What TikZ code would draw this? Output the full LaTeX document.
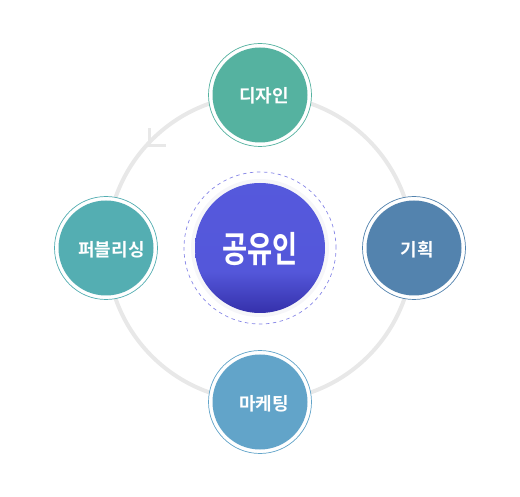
\documentclass[tikz,border=0pt]{standalone}
\usepackage{fontspec}
\setmainfont{Noto Sans CJK KR}[BoldFont={Noto Sans CJK KR Bold}]
\usepackage{xcolor}
\definecolor{designcol}{HTML}{55B2A0}
\definecolor{pubcol}{HTML}{54AEB2}
\definecolor{plancol}{HTML}{5383AE}
\definecolor{markcol}{HTML}{62A4C9}
\definecolor{ringcol}{HTML}{E8E8E8}
\definecolor{dashcol}{HTML}{8585E6}
\definecolor{coretop}{HTML}{565ADE}
\definecolor{coremid}{HTML}{5457DA}
\definecolor{corelow}{HTML}{3733AE}
\definecolor{glowcol}{HTML}{F6F6F9}
\pgfdeclareverticalshading{coreshade}{100bp}{
  color(0bp)=(corelow);
  color(26bp)=(corelow);
  color(41bp)=(coremid);
  color(100bp)=(coretop)}
\tikzset{
  outerdisc/.style={circle,draw=#1,line width=0.7pt,fill=white,minimum size=103pt,inner sep=0pt},
  innerdisc/.style={circle,fill=#1,minimum size=95pt,inner sep=0pt},
  disclabel/.style={text=white,font=\bfseries\fontsize{18}{18}\selectfont,inner sep=0pt}
}
\begin{document}
\begin{tikzpicture}[x=1pt,y=1pt]
\useasboundingbox (0,0) rectangle (520,-497);

% big ring and its arrow
\draw [ringcol,line width=4pt](260,-248) circle (153);
\coordinate (tipa) at (149,-128);
\coordinate (tipb) at (149,-146);
\coordinate (tipc) at (166,-146);
\draw [ringcol,line width=3pt](tipa)--(tipb)--(tipc);

% center
\node [circle,draw=dashcol,dash pattern=on 3.5pt off 3.5pt,line width=0.7pt,minimum size=152pt,inner sep=0pt] (halo) at (260,-248) {};
\node [circle,fill=glowcol,minimum size=138pt,inner sep=0pt] (glow) at (260,-248) {};
\node [circle,shading=coreshade,minimum size=130pt,inner sep=0pt] (core) at (260,-248) {};
\node [text=white,font=\bfseries\fontsize{36}{36}\selectfont,xscale=0.76,inner sep=0pt] (corelabel) at (260,-249) {공유인};

% top
\node [outerdisc=designcol] (designout) at (260,-95) {};
\node [innerdisc=designcol] (design) at (260,-95) {};
\node [disclabel] (designlabel) at (264,-96) {디자인};

% left
\node [outerdisc=pubcol] (pubout) at (106,-248) {};
\node [innerdisc=pubcol] (pub) at (106,-248) {};
\node [disclabel] (publabel) at (111.5,-250) {퍼블리싱};

% right
\node [outerdisc=plancol] (planout) at (414,-248) {};
\node [innerdisc=plancol] (plan) at (414,-248) {};
\node [disclabel] (planlabel) at (417,-250) {기획};

% bottom
\node [outerdisc=markcol] (markout) at (260,-402) {};
\node [innerdisc=markcol] (mark) at (260,-402) {};
\node [disclabel] (marklabel) at (264,-403.5) {마케팅};
\end{tikzpicture}
\end{document}
